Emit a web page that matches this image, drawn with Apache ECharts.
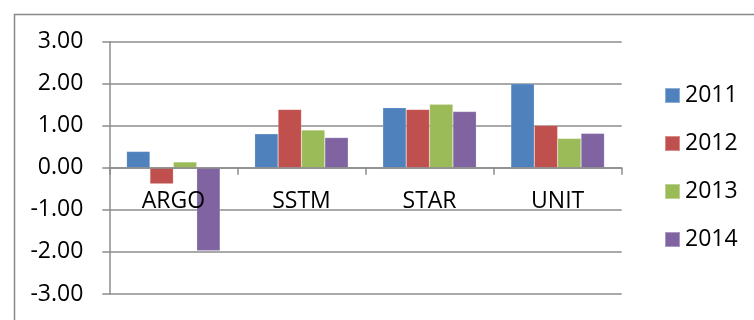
<!DOCTYPE html>
<html>
<head>
<meta charset="utf-8">
<script src="https://cdn.jsdelivr.net/npm/echarts@6/dist/echarts.min.js"></script>
<style>
  html, body { margin: 0; padding: 0; background: #fff; }
  #chart { width: 754px; height: 320px; }
</style>
</head>
<body>
<div id="chart"></div>
<script>
// Categories and yearly values
const categories = ['ARGO', 'SSTM', 'STAR', 'UNIT'];
const years = ['2011', '2012', '2013', '2014'];
const values2011 = [0.39, 0.81, 1.43, 2.00];
const values2012 = [-0.38, 1.39, 1.39, 1.01];
const values2013 = [0.14, 0.90, 1.51, 0.70];
const values2014 = [-1.97, 0.72, 1.34, 0.82];
const yTicks = { min: -3, max: 3, step: 1 };

const palette = ['#4F81BD', '#C0504D', '#9BBB59', '#8064A2'];
const gridColor = '#8c8c8c';
const fontFamily = '"Open Sans", "Noto Sans", sans-serif';

const seriesValues = [values2011, values2012, values2013, values2014];

// plot box in pixels
const plotTop = 41.7, plotBottom = 294;
// distance from the bottom edge up to the zero line
const zeroOffset = (plotBottom - plotTop) * (0 - yTicks.min) / (yTicks.max - yTicks.min);

const chart = echarts.init(document.getElementById('chart'), null, { renderer: 'canvas' });

chart.setOption({
  animation: false,
  color: palette,
  textStyle: { fontFamily: fontFamily, color: '#000' },
  graphic: [{
    type: 'rect',
    left: 12, top: 12,
    shape: { x: 0, y: 0, width: 800, height: 400 },
    style: { fill: 'none', stroke: '#878787', lineWidth: 1.5 },
    silent: true,
    z: -10
  }],
  grid: {
    left: 109.3, right: 132.3, top: plotTop, bottom: 320 - plotBottom,
    containLabel: false, outerBoundsMode: 'none'
  },
  legend: {
    orient: 'vertical',
    left: 659,
    top: 79,
    itemWidth: 15,
    itemHeight: 15,
    itemGap: 25,
    icon: 'rect',
    textStyle: { fontFamily: fontFamily, fontSize: 23, color: '#000' },
    data: years
  },
  xAxis: {
    type: 'category',
    data: categories,
    position: 'bottom',
    offset: -zeroOffset,
    z: 3,
    axisLine: { onZero: false, lineStyle: { color: gridColor, width: 1.5 } },
    axisTick: { show: true, interval: 0, length: 7, alignWithLabel: false, lineStyle: { color: gridColor, width: 1.5 } },
    axisLabel: { fontFamily: fontFamily, fontSize: 23, color: '#000', margin: 22, interval: 0 },
    splitLine: { show: false }
  },
  yAxis: {
    type: 'value',
    min: yTicks.min,
    max: yTicks.max,
    interval: yTicks.step,
    axisLine: { show: true, lineStyle: { color: gridColor, width: 1.5 } },
    axisTick: { show: true, length: 7, lineStyle: { color: gridColor, width: 1.5 } },
    axisLabel: {
      fontFamily: fontFamily, fontSize: 23, color: '#000', margin: 26,
      formatter: v => v.toFixed(2)
    },
    splitLine: { show: true, lineStyle: { color: gridColor, width: 1.5 } }
  },
  series: years.map((y, i) => ({
    name: y,
    type: 'bar',
    data: seriesValues[i],
    barGap: '0%',
    barCategoryGap: '27%',
    itemStyle: { color: palette[i], borderColor: 'rgba(255,255,255,0.35)', borderWidth: 0.5 }
  }))
});
</script>
</body>
</html>
